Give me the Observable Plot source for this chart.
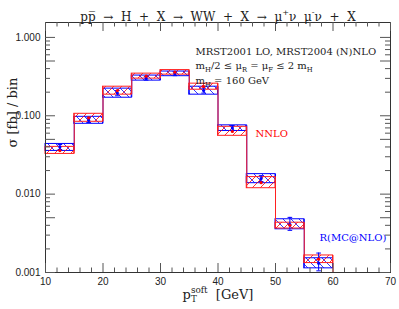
<!DOCTYPE html>
<html><head><meta charset="utf-8">
<script src="https://cdn.jsdelivr.net/npm/d3@7"></script>
<script src="https://cdn.jsdelivr.net/npm/@observablehq/plot@0.6"></script>
<style>body{margin:0;background:#fff} #chart{width:399px;height:309px}</style>
</head><body><div id="chart"></div>
<script>
// ---- data ----
const binLo   = [10, 15, 20, 25, 30, 35, 40, 45, 50, 55];
const binHi   = [15, 20, 25, 30, 35, 40, 45, 50, 55, 60];
const redLow  = [0.0326, 0.0838, 0.186, 0.298, 0.335, 0.215, 0.0555, 0.0119, 0.00364, 0.00132];
const redHigh = [0.0401, 0.106, 0.235, 0.345, 0.383, 0.257, 0.0723, 0.0165, 0.00432, 0.00165];
const blueLow = [0.0356, 0.079, 0.170, 0.281, 0.320, 0.186, 0.064, 0.0138, 0.00356, 0.00113];
const blueHigh= [0.0437, 0.097, 0.222, 0.326, 0.367, 0.235, 0.0755, 0.0180, 0.00478, 0.00152];
const redCenter  = [0.036, 0.094, 0.210, 0.320, 0.360, 0.235, 0.063, 0.0140, 0.0040, 0.00148];
const blueCenter = [0.040, 0.088, 0.195, 0.300, 0.345, 0.210, 0.070, 0.0158, 0.0041, 0.00131];
const blueErrLo  = [0.037, 0.082, 0.180, 0.285, 0.325, 0.195, 0.065, 0.0145, 0.00345, 0.00105];
const blueErrHi  = [0.043, 0.094, 0.210, 0.315, 0.365, 0.225, 0.075, 0.0172, 0.00505, 0.00177];
const xMajor = [10, 20, 30, 40, 50, 60, 70];
const yMajor = [1, 0.5, 0.1, 0.05, 0.01, 0.005, 0.001];
const titleText = "pp\u0305  \u2192  H  +  X  \u2192  WW  +  X  \u2192  \u03bc^+\u03bd  \u03bc^-\u03bd  +  X";
const yLabel = "\u03c3 [fb] / bin";
const xLabel = "p_T^{soft}  [GeV]";
const infoLines = ["MRST2001 LO, MRST2004 (N)NLO", "m_H/2 \u2264 \u03bc_R = \u03bc_F \u2264 2 m_H", "m_H = 160 GeV"];
const redName = "NNLO";
const blueName = "R(MC@NLO)";

// ---- derived ----
const W = 399, H = 309, mL = 45, mR = 9, mT = 22, mB = 37;
const innerW = W - mL - mR, innerH = H - mT - mB;
const bins = binLo.map((lo, i) => ({lo, hi: binHi[i], mid: (lo + binHi[i]) / 2,
  rl: redLow[i], rh: redHigh[i], bl: blueLow[i], bh: blueHigh[i],
  rc: redCenter[i], bc: blueCenter[i], el: blueErrLo[i], eh: blueErrHi[i]}));
const edges = bins.slice(0, -1).map((b, i) => {
  const n = bins[i + 1];
  return {x: b.hi, r1: Math.min(b.rl, n.rl), r2: Math.max(b.rh, n.rh), b1: Math.min(b.bl, n.bl), b2: Math.max(b.bh, n.bh)};
});
const last = bins[bins.length - 1];
const xMinor = d3.range(10, 70, 2).filter(v => v % 10 !== 0);
const yMinor = [];
for (const e of [-3, -2, -1]) for (const k of [2, 3, 4, 6, 7, 8, 9]) yMinor.push(+(k * Math.pow(10, e)).toPrecision(3));
const tickColor = "#555";
const serif = "DejaVu Serif, serif";

const plot = Plot.plot({
  width: W, height: H, marginLeft: mL, marginRight: mR, marginTop: mT, marginBottom: mB,
  style: {fontFamily: "Liberation Sans, Arial, sans-serif", fontSize: "10px", color: "#222", background: "#fff"},
  x: {domain: [10, 70], ticks: xMajor, tickFormat: d => String(d), tickSize: 0, tickPadding: 5, label: null},
  y: {type: "log", domain: [0.001, 1.55], ticks: yMajor, tickFormat: d3.format(".3f"), tickSize: 0, tickPadding: 5, label: null},
  marks: [
    // bands
    Plot.rect(bins, {x1: "lo", x2: "hi", y1: "bl", y2: "bh", fill: "url(#hatchBlue)", stroke: "blue", strokeWidth: 1}),
    Plot.ruleX(edges, {x: "x", y1: "b1", y2: "b2", stroke: "blue", strokeWidth: 1}),
    Plot.rect(bins, {x1: "lo", x2: "hi", y1: "rl", y2: "rh", fill: "url(#hatchRed)", stroke: "#ff2020", strokeWidth: 1}),
    Plot.ruleX(edges, {x: "x", y1: "r1", y2: "r2", stroke: "#ff2020", strokeWidth: 1}),
    Plot.ruleX([last], {x: "hi", y1: () => 0.001, y2: "rh", stroke: "#ff2020", strokeWidth: 1}),
    // central values
    Plot.ruleX(bins, {x: "mid", y1: "el", y2: "eh", stroke: "blue", strokeWidth: 1}),
    Plot.link(bins, {x1: d => d.mid - 0.4, x2: d => d.mid + 0.4, y1: "el", y2: "el", stroke: "blue"}),
    Plot.link(bins, {x1: d => d.mid - 0.4, x2: d => d.mid + 0.4, y1: "eh", y2: "eh", stroke: "blue"}),
    Plot.dot(bins, {x: "mid", y: "bc", r: 1.6, fill: "blue"}),
    Plot.dot(bins, {x: "mid", y: "rc", r: 1.6, fill: "red"}),
    // frame & ticks
    Plot.frame({stroke: "#333"}),
    Plot.tickX(xMajor, {x: d => d, insetTop: innerH - 9, stroke: tickColor}),
    Plot.tickX(xMajor, {x: d => d, insetBottom: innerH - 9, stroke: tickColor}),
    Plot.tickX(xMinor, {x: d => d, insetTop: innerH - 4.5, stroke: tickColor}),
    Plot.tickX(xMinor, {x: d => d, insetBottom: innerH - 4.5, stroke: tickColor}),
    Plot.tickY(yMajor, {y: d => d, insetRight: innerW - 10, stroke: tickColor}),
    Plot.tickY(yMajor, {y: d => d, insetLeft: innerW - 10, stroke: tickColor}),
    Plot.tickY(yMinor, {y: d => d, insetRight: innerW - 5, stroke: tickColor}),
    Plot.tickY(yMinor, {y: d => d, insetLeft: innerW - 5, stroke: tickColor}),
    // texts
    Plot.text([titleText], {text: d => d, frameAnchor: "top", dy: -10.5, fontFamily: serif, fontSize: 12, fill: "#222"}),
    Plot.text([yLabel], {text: d => d, frameAnchor: "left", dx: -33, rotate: -90, fontFamily: serif, fontSize: 13, fill: "#222"}),
    Plot.text([xLabel], {text: d => d, frameAnchor: "bottom", dy: 26, fontFamily: serif, fontSize: 13, fill: "#222"}),
    ...infoLines.map((line, i) => Plot.text([line], {text: d => d, frameAnchor: "top-left", textAnchor: "start", dx: 150, dy: 25 + i * 14.5, fontFamily: serif, fontSize: 10, fill: "#222"})),
    Plot.text([redName], {text: d => d, frameAnchor: "top-left", textAnchor: "start", dx: 210, dy: 107, fontFamily: serif, fontSize: 10, fill: "red"}),
    Plot.text([blueName], {text: d => d, frameAnchor: "top-left", textAnchor: "start", dx: 274, dy: 211, fontFamily: serif, fontSize: 10, fill: "blue"})
  ]
});
document.getElementById("chart").append(plot);

// patterns
const svg = d3.select(plot);
const defs = svg.insert("defs", ":first-child");
function hatch(id, color, d) {
  defs.append("pattern").attr("id", id).attr("patternUnits", "userSpaceOnUse").attr("width", 8).attr("height", 8)
    .append("path").attr("d", d).attr("stroke", color).attr("stroke-width", 0.8).attr("fill", "none");
}
hatch("hatchRed", "red", "M-1,1L1,-1M0,8L8,0M7,9L9,7");
hatch("hatchBlue", "blue", "M-1,7L1,9M0,0L8,8M7,-1L9,1");

// rich text: _x subscripts, ^x superscripts
function parseRich(s) {
  const segs = []; let i = 0, buf = "";
  while (i < s.length) {
    const c = s[i];
    if (c === "_" || c === "^") {
      if (buf) { segs.push({t: buf, k: 0}); buf = ""; }
      let t;
      if (s[i + 1] === "{") { const j = s.indexOf("}", i + 2); t = s.slice(i + 2, j); i = j + 1; }
      else { t = s[i + 1]; i += 2; }
      segs.push({t, k: c === "_" ? 1 : -1});
    } else { buf += c; i++; }
  }
  if (buf) segs.push({t: buf, k: 0});
  return segs;
}
svg.selectAll("text").each(function() {
  const s = this.textContent;
  if (!/[_^]/.test(s)) return;
  const fs = parseFloat(getComputedStyle(this).fontSize) || 10;
  const segs = parseRich(s);
  this.textContent = "";
  this.style.whiteSpace = "pre";
  let cur = 0, prevSub = null;
  for (const seg of segs) {
    const ts = document.createElementNS("http://www.w3.org/2000/svg", "tspan");
    ts.textContent = seg.t;
    const target = seg.k === 1 ? fs * 0.3 : seg.k === -1 ? -fs * 0.42 : 0;
    if (target !== cur) ts.setAttribute("dy", target - cur);
    cur = target;
    if (seg.k !== 0) ts.setAttribute("font-size", fs * 0.68);
    this.appendChild(ts);
    if (seg.k === -1 && prevSub) {
      ts.setAttribute("dx", -prevSub.getComputedTextLength());
    }
    prevSub = seg.k === 1 ? ts : null;
  }
});
</script></body></html>
